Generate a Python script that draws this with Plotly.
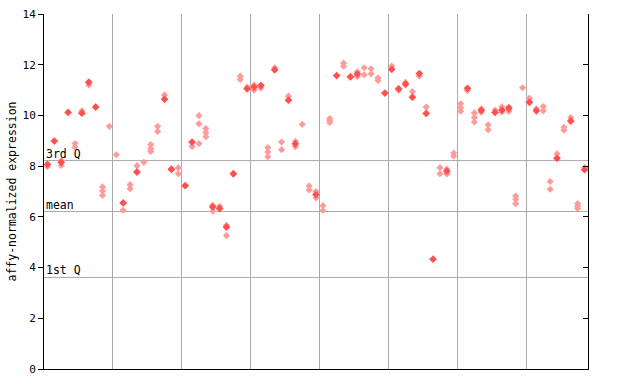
import plotly.graph_objects as go

# per-sample values (79 samples), solid markers and hatched (lighter) markers
filled = [
    [8.07], [8.99], [8.15], [10.12], [], [10.09], [11.31], [10.33], [], [],
    [], [6.55], [], [7.77], [], [], [], [10.64], [7.87], [],
    [7.23], [8.95], [], [], [6.39], [6.33], [5.6], [7.7], [], [11.05],
    [11.12], [11.18], [], [11.8], [], [10.6], [8.88], [], [], [6.88],
    [], [], [11.57], [], [11.53], [11.63], [], [], [], [10.88],
    [11.82], [11.05], [11.23], [10.72], [11.65], [10.08], [4.33], [], [7.8], [],
    [], [11.07], [], [10.2], [], [10.12], [10.21], [10.28], [], [],
    [10.52], [10.18], [], [], [8.31], [], [9.78], [], [7.86],
]
hatched = [
    [7.98], [], [8.22, 8.03], [], [8.89, 8.75], [10.18], [11.2], [], [7.18, 7.02, 6.85], [9.57],
    [8.45], [6.26], [7.27, 7.11], [8.02], [8.15], [8.85, 8.69, 8.58], [9.57, 9.37], [10.81], [7.9], [7.94, 7.7],
    [], [8.77], [9.99, 9.67, 8.89], [9.48, 9.32, 9.16], [6.46, 6.22], [6.42], [5.67, 5.26], [], [11.55, 11.42], [11.12],
    [11.2, 11.0], [11.08], [8.73, 8.56, 8.37], [11.88], [8.95, 8.65], [10.76], [8.98, 8.77], [9.65], [7.22, 7.06], [7.0, 6.75],
    [6.44, 6.25], [9.88, 9.8, 9.72], [], [12.06, 11.94], [11.5], [11.72, 11.54], [11.88, 11.6], [11.84, 11.64], [11.48, 11.38], [],
    [11.95], [11.0], [11.31], [10.94], [11.55], [10.33], [], [7.94, 7.7], [7.88, 7.69], [8.52, 8.4],
    [10.46, 10.3, 10.16], [10.98], [10.1, 9.92, 9.74], [10.26, 10.13], [9.63, 9.44], [10.21], [10.34, 10.14], [10.33, 10.16], [6.82, 6.69, 6.52], [11.09],
    [10.68], [10.26], [10.35, 10.18], [7.39, 7.09], [8.49], [9.53, 9.42], [9.92], [6.52, 6.33, 6.42], [7.95],
]
quartiles = {"3rd Q": 8.22, "mean": 6.21, "1st Q": 3.61}
group_bounds = [10, 20, 30, 40, 50, 60, 70]
y_ticks = [0, 2, 4, 6, 8, 10, 12, 14]
n_samples = len(filled)

def flatten(groups):
    xs, ys = [], []
    for i, vals in enumerate(groups):
        for v in vals:
            xs.append(i + 0.5)
            ys.append(v)
    return xs, ys

hx, hy = flatten(hatched)
fx, fy = flatten(filled)

mono = "DejaVu Sans Mono"
fig = go.Figure()
fig.add_trace(go.Scatter(x=hx, y=hy, mode="markers",
                         marker=dict(symbol="diamond", size=5.5, color="rgb(255,155,155)",
                                     line=dict(width=0)),
                         showlegend=False, hoverinfo="skip"))
fig.add_trace(go.Scatter(x=fx, y=fy, mode="markers",
                         marker=dict(symbol="diamond", size=6, color="rgb(255,80,80)",
                                     line=dict(width=0)),
                         showlegend=False, hoverinfo="skip"))
# dummy trace for right axis
fig.add_trace(go.Scatter(x=[0], y=[0], yaxis="y2", mode="markers",
                         marker=dict(opacity=0), showlegend=False, hoverinfo="skip"))

for name, v in quartiles.items():
    fig.add_shape(type="line", xref="paper", x0=0, x1=1, yref="y", y0=v, y1=v,
                  line=dict(color="#aaaaaa", width=1), layer="below")
    fig.add_annotation(xref="paper", x=0, y=v, yref="y", text=name, showarrow=False,
                       xanchor="left", yanchor="bottom", yshift=-2,
                       font=dict(family=mono, size=11.5, color="black"))

fig.add_annotation(xref="paper", yref="paper", x=0, y=0.5, xshift=-33, text="affy-normalized expression",
                   textangle=-90, showarrow=False, xanchor="center", yanchor="middle",
                   font=dict(family=mono, size=11.5, color="black"))

fig.update_layout(
    width=640, height=384,
    margin=dict(l=44, r=52, t=14, b=15, autoexpand=False),
    paper_bgcolor="white", plot_bgcolor="white",
    xaxis=dict(range=[0, n_samples], tickvals=group_bounds, showticklabels=False, ticks="",
               showgrid=True, gridcolor="#aaaaaa", gridwidth=1, zeroline=False,
               showline=True, linecolor="black", linewidth=1, mirror=False),
    yaxis=dict(range=[0, 14], tickvals=y_ticks, ticks="outside", ticklen=5, tickcolor="black",
               showgrid=False, zeroline=False, showline=True, linecolor="black", linewidth=1,
               tickfont=dict(family=mono, size=11, color="black")),
    yaxis2=dict(range=[0, 14], tickvals=y_ticks, overlaying="y", side="right", ticks="inside",
                ticklen=5, tickcolor="black", showticklabels=False, showgrid=False, zeroline=False,
                showline=True, linecolor="black", linewidth=1),
)

fig.write_html("out.html")
